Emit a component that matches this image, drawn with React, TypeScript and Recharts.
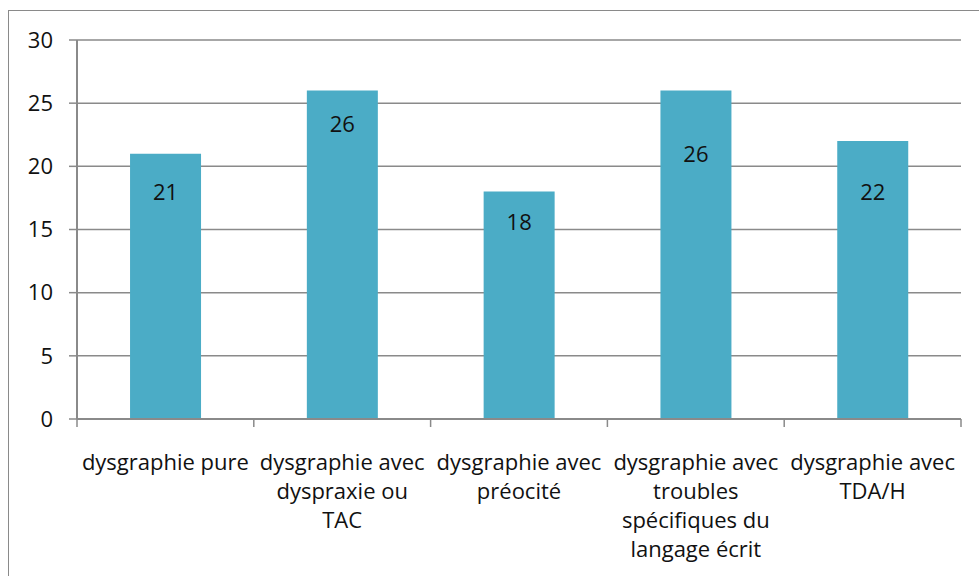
import { BarChart, Bar, XAxis, YAxis, CartesianGrid, LabelList } from "recharts";

const categories = [
  "dysgraphie pure",
  "dysgraphie avec\ndyspraxie ou\nTAC",
  "dysgraphie avec\npréocité",
  "dysgraphie avec\ntroubles\nspécifiques du\nlangage écrit",
  "dysgraphie avec\nTDA/H",
];
const values = [21, 26, 18, 26, 22];
const yTicks = [0, 5, 10, 15, 20, 25, 30];

// label placement inside each bar, px below the bar top (as in the original)
const labelDy = [39, 34, 31, 64, 51];

const data = categories.map((name, i) => ({ name, value: values[i] }));

const FONT = "'Open Sans', sans-serif";
const GRID = "#8a8a8a";
const FS = 22;

// category label plus the tick marks on the band boundaries
const CategoryTick = ({ x, y, payload, index, visibleTicksCount }: any) => {
  const lines = String(payload.value).split("\n");
  const half = payload.offset ?? 0;
  const last = index === visibleTicksCount - 1;
  return (
    <g>
      <line x1={x - half} x2={x - half} y1={y} y2={y + 8} stroke={GRID} strokeWidth={1.5} />
      {last && <line x1={x + half} x2={x + half} y1={y} y2={y + 8} stroke={GRID} strokeWidth={1.5} />}
      <text x={x} y={y} textAnchor="middle" fontFamily={FONT} fontSize={FS} fill="#111">
        {lines.map((l, i) => (
          <tspan key={i} x={x} dy={i === 0 ? 51 : 29}>
            {l}
          </tspan>
        ))}
      </text>
    </g>
  );
};

const ValueLabel = ({ x, y, width, value, index }: any) => (
  <text
    x={x + width / 2}
    y={y + labelDy[index]}
    dy="0.35em"
    textAnchor="middle"
    fontFamily={FONT}
    fontSize={FS}
    fill="#111"
  >
    {value}
  </text>
);

export default function App() {
  return (
    <div style={{ position: "absolute", left: 0, top: 0, width: 979, height: 576, background: "#fff", overflow: "hidden" }}>
      <div
        style={{
          position: "absolute",
          left: 8,
          top: 10,
          width: 1000,
          height: 600,
          borderLeft: "1.5px solid #8a8a8a",
          borderTop: "1.5px solid #8a8a8a",
        }}
      />
      <BarChart
        width={979}
        height={576}
        data={data}
        margin={{ top: 40, right: 18, left: 0, bottom: 0 }}
        barCategoryGap="30%"
        style={{ position: "absolute", left: 0, top: 0 }}
      >
        <CartesianGrid vertical={false} stroke={GRID} strokeWidth={1.5} />
        <XAxis
          dataKey="name"
          height={157}
          interval={0}
          tickSize={0}
          tickMargin={0}
          tickLine={false}
          axisLine={{ stroke: GRID, strokeWidth: 2 }}
          tick={<CategoryTick />}
        />
        <YAxis
          width={77}
          domain={[0, 30]}
          ticks={yTicks}
          tickSize={8}
          tickMargin={16}
          axisLine={{ stroke: GRID, strokeWidth: 2 }}
          tickLine={{ stroke: GRID, strokeWidth: 1.5 }}
          tick={{ fontFamily: FONT, fontSize: FS, fill: "#111" }}
        />
        <Bar dataKey="value" fill="#4bacc6" isAnimationActive={false}>
          <LabelList dataKey="value" content={<ValueLabel />} />
        </Bar>
      </BarChart>
    </div>
  );
}
